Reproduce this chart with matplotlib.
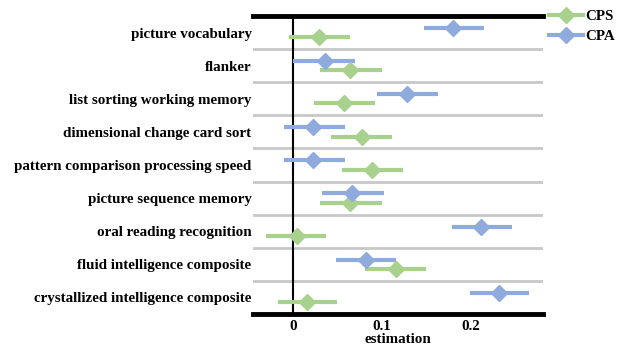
import numpy as np
import matplotlib.pyplot as plt
from matplotlib.lines import Line2D

measures = ["picture vocabulary", "flanker", "list sorting working memory",
            "dimensional change card sort", "pattern comparison processing speed",
            "picture sequence memory", "oral reading recognition",
            "fluid intelligence composite", "crystallized intelligence composite"]

cps_est = [0.029, 0.064, 0.057, 0.078, 0.089, 0.064, 0.004, 0.116, 0.016]
cps_lo = [-0.004, 0.030, 0.023, 0.043, 0.055, 0.030, -0.030, 0.081, -0.017]
cps_hi = [0.064, 0.100, 0.092, 0.111, 0.124, 0.100, 0.037, 0.149, 0.049]

cpa_est = [0.180, 0.036, 0.128, 0.022, 0.022, 0.066, 0.211, 0.082, 0.231]
cpa_lo = [0.147, 0.000, 0.094, -0.010, -0.010, 0.033, 0.179, 0.048, 0.199]
cpa_hi = [0.215, 0.070, 0.163, 0.058, 0.058, 0.102, 0.246, 0.116, 0.265]

plt.rcParams['font.family'] = ['Liberation Serif', 'DejaVu Serif']
plt.rcParams['font.weight'] = 'bold'

green = "#a9d18e"
blue = "#8faadc"

fig = plt.figure(figsize=(6.18, 3.5), dpi=100)
ax = fig.add_axes([0.4094, 0.103, 0.4693, 0.851])

y = np.arange(len(measures))
off = 0.14

def draw(est, lo, hi, ypos, color):
    est = np.array(est)
    err = [est - np.array(lo), np.array(hi) - est]
    ax.errorbar(est, ypos, xerr=err, fmt='D', color=color, ecolor=color,
                elinewidth=3, markersize=8.5, capsize=0, zorder=3)

draw(cps_est, cps_lo, cps_hi, y + off, green)
draw(cpa_est, cpa_lo, cpa_hi, y - off, blue)

for s in np.arange(0.5, len(measures) - 1, 1.0):
    ax.axhline(s, color="#c8c8c8", lw=2, zorder=1)
ax.axvline(0, color="black", lw=1.5, zorder=2)

ax.set_ylim(len(measures) - 0.5, -0.5)
ax.set_xlim(-0.045, 0.281)
ax.set_yticks(y)
ax.set_yticklabels(measures, fontsize=10.8, fontweight='bold')
ax.set_xticks([0, 0.1, 0.2])
ax.set_xticklabels(["0", "0.1", "0.2"], fontsize=10.8, fontweight='bold')
ax.tick_params(axis='y', length=0, pad=1)
ax.tick_params(axis='x', length=0, pad=4)
ax.set_xlabel("estimation", fontsize=10.8, fontweight='bold', labelpad=0)

for side in ["left", "right"]:
    ax.spines[side].set_visible(False)
for side in ["top", "bottom"]:
    ax.spines[side].set_linewidth(3.5)

handles = [Line2D([], [], color=green, lw=3, marker='D', markersize=8.5),
           Line2D([], [], color=blue, lw=3, marker='D', markersize=8.5)]
fig.legend(handles, ["CPS", "CPA"], loc="upper left", bbox_to_anchor=(0.878, 0.99),
           frameon=False, prop={'weight': 'bold', 'size': 10.8}, handlelength=2.3,
           handletextpad=0.15, labelspacing=0.45, borderaxespad=0.3, borderpad=0.1)

fig.savefig("out.png", dpi=100)
